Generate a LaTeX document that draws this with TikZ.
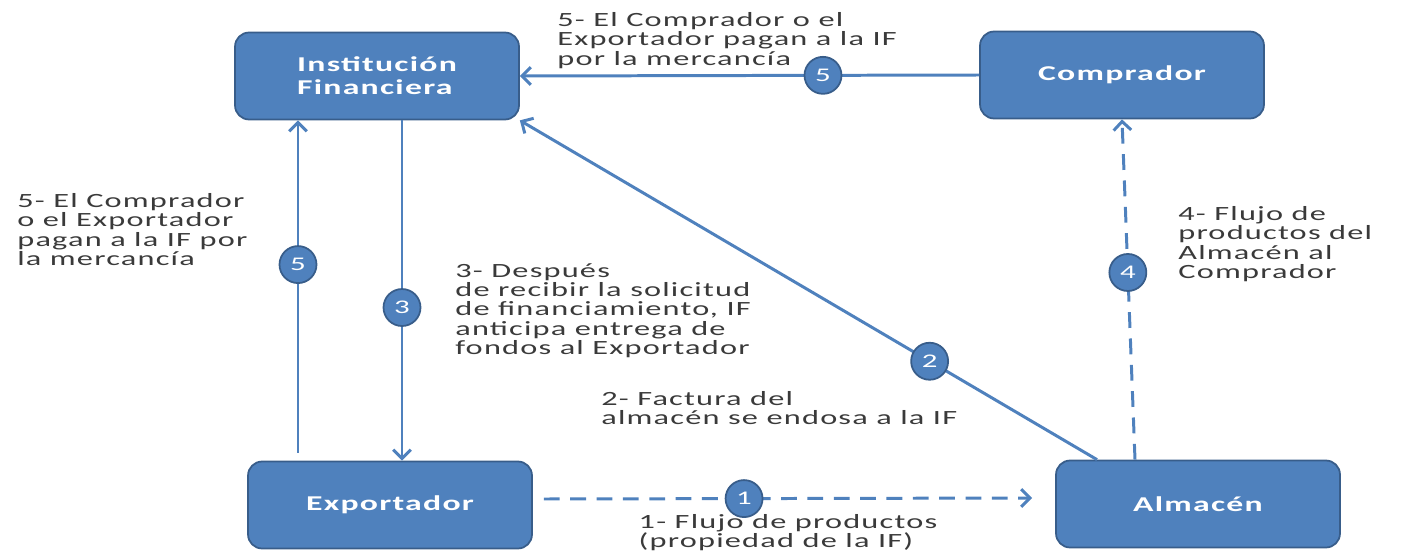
\documentclass[tikz,border=0pt]{standalone}
\usepackage{fontspec}
\setmainfont{Carlito}
\newfontfamily\labelfont[FakeStretch=1.6, LetterSpace=6]{Carlito}
\usepackage{xcolor}
\usetikzlibrary{calc, arrows.meta}
\definecolor{boxblue}{HTML}{4F81BD}
\definecolor{boxedge}{HTML}{385D8A}
\definecolor{txtgray}{HTML}{3A3A3A}
\tikzset{>={Straight Barb[length=5pt,width=10pt]}}
\tikzset{
  entity/.style={draw=boxedge, line width=1pt, fill=boxblue, rounded corners=8pt,
    minimum width=5.68cm, minimum height=1.74cm, text=white, align=left,
    font=\labelfont\fontsize{12}{13}\selectfont\bfseries},
  stepnum/.style={circle, solid, draw=boxedge, line width=1pt, fill=boxblue, text=white,
    minimum size=0.74cm, inner sep=0pt, font=\labelfont\fontsize{11}{11}\selectfont},
  flow/.style={boxblue, line width=1.7pt, ->},
  flowdash/.style={flow, dash pattern=on 9pt off 6pt},
  note/.style={text=txtgray, align=left, inner sep=0pt,
    font=\labelfont\fontsize{11.5}{11}\selectfont}
}

\begin{document}
\begin{tikzpicture}[x=0.02cm, y=-0.02cm]
\useasboundingbox (0,0) rectangle (1416,554);
% the four parties
\node[entity] (inst) at (377,76)  {Institución\\Financiera};
\node[entity] (comp) at (1122,75) {Comprador};
\node[entity] (exp)  at (390,505) {Exportador};
\node[entity] (alm)  at (1198,504) {Almacén};
% flows
\draw[flowdash] ($(exp.east)+(11,-6)$) -- node[stepnum, pos=0.41] (c1) {1} ($(alm.west)+(-23,-6)$);
\draw[flow] ($(alm.north)+(-101,0)$) -- node[stepnum, pos=0.29] (c2) {2} (inst.south east);
\coordinate (top3) at ($(inst.south)+(25,0)$);
\draw[flow] (top3) -- node[stepnum, pos=0.55] (c3) {3} (top3 |- exp.north);
\draw[flowdash] ($(alm.north)+(-63,0)$) -- node[stepnum, pos=0.55] (c4) {4} (comp.south);
\draw[flow] (comp.west) -- node[stepnum, pos=0.34] (c5a) {5} (inst.east);
\coordinate (bot5) at ($(exp.north)+(-92,-8)$);
\draw[flow] (bot5) -- node[stepnum, pos=0.566] (c5b) {5} (bot5 |- inst.south);
% notes
\node[note, anchor=north west] (n5top) at (557,12) {5- El Comprador o el\\Exportador pagan a la IF\\por la mercancía};
\node[note, anchor=north west] (n5left) at (17,193) {5- El Comprador\\o el Exportador\\pagan a la IF por\\la mercancía};
\node[note, anchor=north west] (n3) at (455,263) {3- Después\\de recibir la solicitud\\de financiamiento, IF\\anticipa entrega de\\fondos al Exportador};
\node[note, anchor=north west] (n2) at (601,391) {2- Factura del\\almacén se endosa a la IF};
\node[note, anchor=north west] (n4) at (1178,206) {4- Flujo de\\productos del\\Almacén al\\Comprador};
\node[note, anchor=north] (n1) at (788,514) {1- Flujo de productos\\(propiedad de la IF)};
\end{tikzpicture}
\end{document}
